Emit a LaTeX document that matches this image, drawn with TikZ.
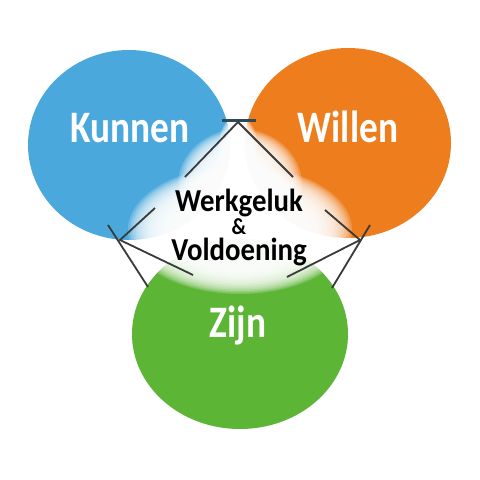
\documentclass[tikz,border=0pt]{standalone}
\usepackage{fontspec}
\setmainfont{Carlito}
\definecolor{cblue}{HTML}{4AA8DC}
\definecolor{corange}{HTML}{EE7D1E}
\definecolor{cgreen}{HTML}{5CB535}
\definecolor{cline}{HTML}{3A3A3A}
\definecolor{cbar}{HTML}{2E4A58}
\tikzset{
  big/.style={text=white, font=\bfseries\fontsize{45}{45}\selectfont, inner sep=0pt, anchor=base, xscale=0.83},
  mid/.style={text=black, font=\bfseries\fontsize{32}{23}\selectfont, inner sep=0pt, align=center, xscale=0.9},
  conn/.style={draw=cline, line width=1.8pt},
  bar/.style={draw=cbar, line width=3pt},
  glowstep/.style={fill=white, fill opacity=0.2}
}
\newcommand\myglow[6]{% cx cy rx0 ry0 rx1 ry1
  \foreach \i in {0,...,16}{
    \fill[glowstep] (#1,#2) ellipse [x radius={#5-\i*(#5-#3)/16}, y radius={#6-\i*(#6-#4)/16}];
  }}
\begin{document}
\begin{tikzpicture}[x=1pt,y=-1pt]
\useasboundingbox (0,0) rectangle (480,480);
\fill[white] (0,0) rectangle (480,480);
\fill[cgreen] (240,334) ellipse [x radius=108, y radius=95];
\fill[cblue] (129,145) ellipse [x radius=101, y radius=95];
\fill[corange] (348,143) ellipse [x radius=103, y radius=95];
% glow
\myglow{240}{230}{72}{40}{112}{64}
\myglow{240}{185}{30}{32}{62}{56}
\myglow{238}{148}{6}{20}{20}{32}
% nodes
\node[big] (k) at (130,142) {Kunnen};
\node[big] (w) at (348,142) {Willen};
\node[big] (z) at (238,337) {Zijn};
\node[mid] (t) at (239,227) {Werkgeluk\\{\fontsize{23}{23}\selectfont\&}\\[3pt]Voldoening};
% connector points
\coordinate (top) at (238,122);
\coordinate (tl) at (222,120);
\coordinate (tr) at (256,120);
\coordinate (a1) at (185,177);
\coordinate (a2) at (293,177);
\coordinate (lft) at (120,240);
\coordinate (l1) at (155,208);
\coordinate (l2) at (193,275);
\coordinate (lb1) at (108,225);
\coordinate (lb2) at (148,287);
\coordinate (rgt) at (360,240);
\coordinate (r1) at (325,210);
\coordinate (r2) at (287,277);
\coordinate (rb1) at (370,225);
\coordinate (rb2) at (332,288);
\draw[conn] (a1) -- (top) -- (a2);
\draw[bar] (tl) -- (tr);
\draw[conn] (l1) -- (lft) -- (l2);
\draw[conn] (lb1) -- (lb2);
\draw[conn] (r1) -- (rgt) -- (r2);
\draw[conn] (rb1) -- (rb2);
\end{tikzpicture}
\end{document}
